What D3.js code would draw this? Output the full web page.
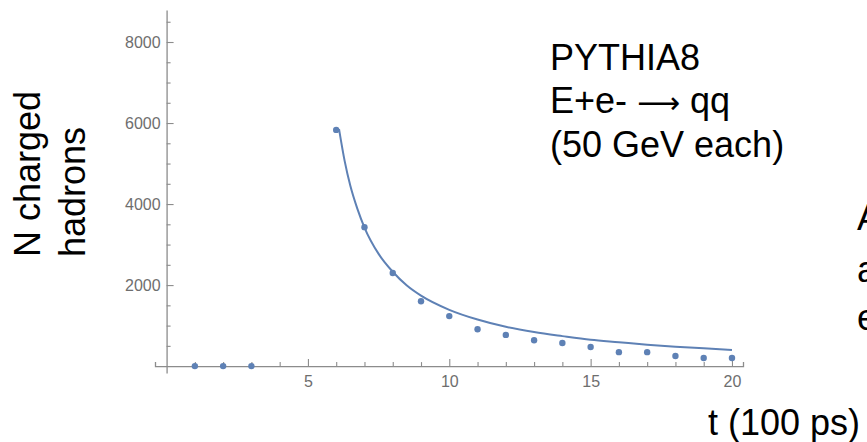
<!DOCTYPE html>
<html>
<head>
<meta charset="utf-8">
<script src="https://cdn.jsdelivr.net/npm/d3@7"></script>
<style>
	body { margin: 0; background: #fff; }
	svg { display: block; font-family: 'Liberation Sans', Arial, sans-serif; }
</style>
</head>
<body>
<div id="chart"></div>
<script>
'use strict';

var w = 867;
var h = 442;

// simulated points
var tPoints = [ 1, 2, 3, 6, 7, 8, 9, 10, 11, 12, 13, 14, 15, 16, 17, 18, 19, 20 ];
var nPoints = [ 0, 0, 0, 5830, 3430, 2300, 1600, 1235, 910, 770, 640, 570, 470, 345, 345, 250, 200, 200 ];

// fitted curve
var tFit = [ 6.1, 6.3, 6.5, 6.75, 7, 7.5, 8, 8.5, 9, 10, 11, 12, 13, 14, 15, 16, 17, 18, 19, 20 ];
var nFit = [ 5850, 5060, 4450, 3880, 3420, 2770, 2330, 1990, 1740, 1390, 1150, 970, 840, 740, 650, 590, 530, 480, 440, 400 ];

// ticks
var xMajor = [ 5, 10, 15, 20 ];
var xMinor = [ 1, 2, 3, 4, 6, 7, 8, 9, 11, 12, 13, 14, 16, 17, 18, 19 ];
var yMajor = [ 2000, 4000, 6000, 8000 ];
var yMinor = [ 500, 1000, 1500, 2500, 3000, 3500, 4500, 5000, 5500, 6500, 7000, 7500, 8500 ];

var blue = '#5e81b5';
var axisGrey = '#8c8c8c';

var svg = d3.select('#chart')
	.append('svg')
	.attr('width', w)
	.attr('height', h);

var x = d3.scaleLinear().domain([ -0.41, 20.39 ]).range([ 155, 743 ]);
var y = d3.scaleLinear().domain([ -170, 8790 ]).range([ 373, 10 ]);

var styleAxis = function(g) {
	g.select('.domain').attr('stroke', axisGrey).attr('stroke-width', 1.3);
	g.selectAll('.tick line').attr('stroke', axisGrey).attr('stroke-width', 1.1);
	g.selectAll('.tick text').attr('fill', '#6e6e6e').style('font-size', '16px');
};

// x axis
svg.append('g')
	.attr('transform', 'translate(0,' + y(0) + ')')
	.call(d3.axisBottom(x).tickValues(xMinor).tickSize(-4).tickFormat(''))
	.call(styleAxis);

svg.append('g')
	.attr('transform', 'translate(0,' + y(0) + ')')
	.call(d3.axisBottom(x).tickValues(xMajor).tickSize(-7).tickPadding(10).tickSizeOuter(0))
	.call(styleAxis)
	.call(function(g) { g.select('.domain').remove(); });

// y axis
svg.append('g')
	.attr('transform', 'translate(' + x(0) + ',0)')
	.call(d3.axisLeft(y).tickValues(yMinor).tickSize(-4).tickFormat('').tickSizeOuter(0))
	.call(styleAxis);

svg.append('g')
	.attr('transform', 'translate(' + x(0) + ',0)')
	.call(d3.axisLeft(y).tickValues(yMajor).tickSize(-7).tickPadding(6).tickFormat(d3.format('d')))
	.call(styleAxis)
	.call(function(g) { g.select('.domain').remove(); });

// fit line
var line = d3.line()
	.x(function(d) { return x(d[0]); })
	.y(function(d) { return y(d[1]); })
	.curve(d3.curveMonotoneX);

svg.append('path')
	.datum(d3.zip(tFit, nFit))
	.attr('d', line)
	.attr('fill', 'none')
	.attr('stroke', blue)
	.attr('stroke-width', 2);

svg.selectAll('circle.pt')
	.data(d3.zip(tPoints, nPoints))
	.enter()
	.append('circle')
	.attr('class', 'pt')
	.attr('cx', function(d) { return x(d[0]); })
	.attr('cy', function(d) { return y(d[1]); })
	.attr('r', 3.2)
	.attr('fill', blue);

// labels
var big = function(sel) {
	return sel.attr('fill', '#000').style('font-size', '36px');
};

var yLabel = svg.append('g').attr('transform', 'translate(40,257) rotate(-90)');
yLabel.append('text').text('N charged').call(big);
yLabel.append('text').attr('y', 45).text('hadrons').call(big);

svg.append('text').attr('x', 550).attr('y', 70).text('PYTHIA8').call(big);
var proc = svg.append('text').attr('x', 550).attr('y', 113).call(big);
proc.append('tspan').text('E+e- ');
proc.append('tspan').style('font-family', '"DejaVu Sans", sans-serif').style('font-size', '30px').text('\u27F6');
proc.append('tspan').text(' qq');
svg.append('text').attr('x', 550).attr('y', 157).text('(50 GeV each)').call(big);

// text running off the right edge, as in the source slide
svg.append('text').attr('x', 857).attr('y', 230).text('A').call(big);
svg.append('text').attr('x', 857).attr('y', 282).text('a').call(big);
svg.append('text').attr('x', 857).attr('y', 330).text('e').call(big);

svg.append('text').attr('x', 708).attr('y', 435).text('t (100 ps)').call(big);
</script>
</body>
</html>
